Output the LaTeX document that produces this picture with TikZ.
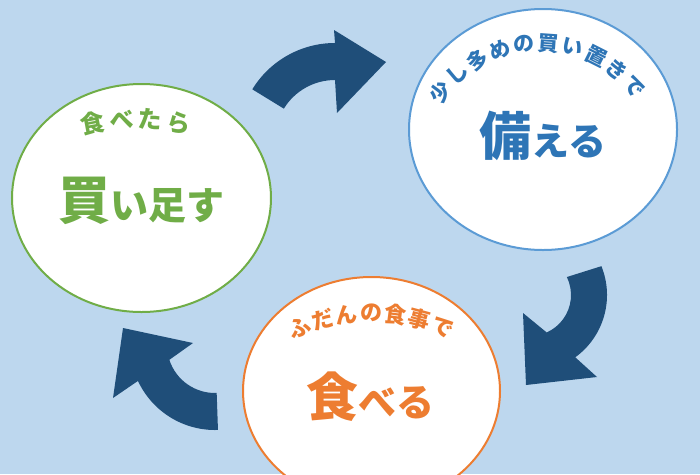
\documentclass[tikz,border=0pt]{standalone}
\usepackage{fontspec}
\newfontfamily\jp{Noto Sans CJK JP}[BoldFont={Noto Sans CJK JP Black}]
\usepackage{tikz}
\usetikzlibrary{shapes.geometric,calc}
\definecolor{bgblue}{HTML}{BDD7EE}
\definecolor{turnblue}{HTML}{1F4E79}
\definecolor{stockline}{HTML}{5B9BD5}
\definecolor{stocktext}{HTML}{2E75B6}
\definecolor{buygreen}{HTML}{70AD47}
\definecolor{eatorange}{HTML}{ED7D31}

\begin{document}
\begin{tikzpicture}[x=1pt, y=-1pt,
  bubble/.style={ellipse, draw, line width=2pt, fill=white, inner sep=0pt},
  arcchar/.style={inner sep=0pt, font=\jp\bfseries\fontsize{#1}{#1}\selectfont},
  bigword/.style={inner sep=0pt, font=\jp\bfseries},
  turn/.style={fill=turnblue}]
  \fill[bgblue] (0,0) rectangle (700,474);
  \clip (0,0) rectangle (700,474);

  \node (buy) [bubble, draw=buygreen, minimum width=259pt, minimum height=228pt] at (141.5,198) {};
  \node (stock) [bubble, draw=stockline, minimum width=268pt, minimum height=241pt] at (543,129.5) {};
  \node (eat) [bubble, draw=eatorange, minimum width=257pt, minimum height=228pt] at (371.5,391) {};

  % curved texts
  \foreach \ch [count=\i from 0] in {食,べ,た,ら}
    \node[arcchar=24, text=buygreen, rotate={-(259.2+7.2*\i)-90}] at ($(136,349)+({259.2+7.2*\i}:230)$) {\ch};
  \foreach \ch [count=\i from 0] in {少,し,多,め,の,買,い,置,き,で}
    \node[arcchar=21, text=stocktext, rotate={-(217+11.4*\i)-90}] at ($(540,167)+({217+11.4*\i}:124)$) {\ch};
  \foreach \ch [count=\i from 0] in {ふ,だ,ん,の,食,事,で}
    \node[arcchar=22, text=eatorange, rotate={-(247.5+7.5*\i)-90}] at ($(371,500)+({247.5+7.5*\i}:187)$) {\ch};

  \node (buyword) [bigword, text=buygreen] at ($(buy)+(0,3)$) {{\fontsize{52}{52}\selectfont 買}{\fontsize{38}{38}\selectfont い足す}};
  \node (stockword) [bigword, text=stocktext] at ($(stock)+(0,6)$) {{\fontsize{52}{52}\selectfont 備}{\fontsize{38}{38}\selectfont える}};
  \node (eatword) [bigword, text=eatorange] at ($(eat)+(-1,6)$) {{\fontsize{52}{52}\selectfont 食}{\fontsize{38}{38}\selectfont べる}};

  % arrows
  \fill[turn] ($(335,140)+(211.5:97)$) arc[start angle=211.5, end angle=270, radius=97] -- (334,30) -- (386,62) -- (337,113) -- ($(335,140)+(270:60)$) arc[start angle=270, end angle=211.5, radius=60] -- cycle;
  \fill[turn] ($(530,295)+(-22:77)$) arc[start angle=-22, end angle=54, radius=77] -- (597,377) -- (526,385) -- (523,313) -- ($(530,295)+(66:41)$) arc[start angle=66, end angle=-26, radius=41] -- cycle;
  \fill[turn] ($(215,345)+(88:85)$) arc[start angle=88, end angle=155, radius=85] -- (113,398) -- (123,328) -- (193,343) -- ($(215,345)+(162:48)$) arc[start angle=162, end angle=88, radius=48] -- cycle;
\end{tikzpicture}
\end{document}
